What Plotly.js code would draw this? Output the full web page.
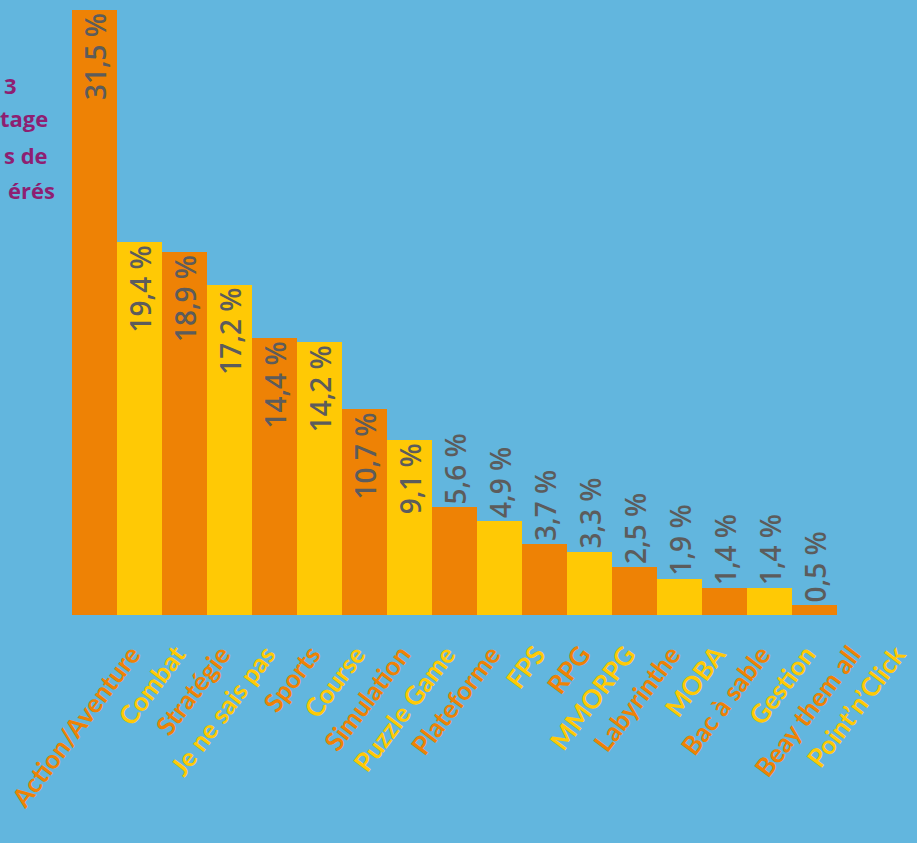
<!DOCTYPE html>
<html>
<head>
<meta charset="utf-8">
<script src="https://cdn.plot.ly/plotly-3.0.1.min.js"></script>
<style>
html,body{margin:0;padding:0;background:#62b6de;}
#chart{width:917px;height:843px;}
</style>
</head>
<body>
<div id="chart"></div>
<script>
const categories = ["Action/Aventure","Combat","Stratégie","Je ne sais pas","Sports","Course","Simulation","Puzzle Game","Plateforme","FPS","RPG","MMORPG","Labyrinthe","MOBA","Bac à sable","Gestion","Beay them all","Point’n’Click"];
const percentValues = [31.5,19.4,18.9,17.2,14.4,14.2,10.7,9.1,5.6,4.9,3.7,3.3,2.5,1.9,1.4,1.4,0.5,null];
const titleLines = ["3","tage","s de","érés"];

const ORANGE = "#ee8205", YELLOW = "#ffc905", GREY = "#5c5c5c", PURPLE = "#8e1f72";
const W = 917, H = 843;
const margin = {l:72, r:35, t:10, b:228};
const plotW = W - margin.l - margin.r;
const plotH = H - margin.t - margin.b;

const barColors = categories.map((c,i)=> i%2===0 ? ORANGE : YELLOW);
const texts = percentValues.map(v => v==null ? "" : v.toFixed(1).replace(".", ",") + " %");
const textPos = percentValues.map(v => (v!=null && v >= 9) ? "inside" : "outside");
const tickText = categories.map((c,i)=> `<span style="color:${barColors[i]}">${c}</span>`);

const pctFont = {family: "Open Sans, sans-serif", size: 28, color: GREY, weight: 600};
const trace = {
  type: "bar",
  x: categories,
  y: percentValues,
  marker: {color: barColors, line: {width: 0}},
  text: texts,
  textposition: textPos,
  insidetextanchor: "end",
  textangle: -90,
  constraintext: "none",
  cliponaxis: false,
  textfont: pctFont,
  insidetextfont: pctFont,
  outsidetextfont: pctFont,
  hoverinfo: "skip"
};

const titleEnds = [19, 50, 50, 57];
const titleY = [85, 118, 155, 190];
const annotations = titleLines.map((t,i)=>({
  text: t, xref: "paper", yref: "paper",
  x: (titleEnds[i] - margin.l) / plotW,
  y: 1 - (titleY[i] - margin.t) / plotH,
  xanchor: "right", yanchor: "middle", showarrow: false,
  font: {family: "Open Sans, sans-serif", size: 22, color: PURPLE, weight: 700}
}));

const layout = {
  width: W, height: H,
  margin: margin,
  paper_bgcolor: "#62b6de",
  plot_bgcolor: "rgba(0,0,0,0)",
  bargap: 0,
  showlegend: false,
  xaxis: {
    type: "category",
    tickmode: "array", tickvals: categories, ticktext: tickText,
    tickangle: -53,
    tickfont: {family: "Lato, sans-serif", size: 26, weight: 700},
    ticklabelstandoff: 18,
    ticklabelshift: 37,
    showgrid: false, zeroline: false, showline: false, ticks: ""
  },
  yaxis: {
    range: [0, 31.5],
    visible: false, showgrid: false, zeroline: false
  },
  annotations: annotations
};

Plotly.newPlot("chart", [trace], layout, {displayModeBar: false, staticPlot: true});
</script>
</body>
</html>
